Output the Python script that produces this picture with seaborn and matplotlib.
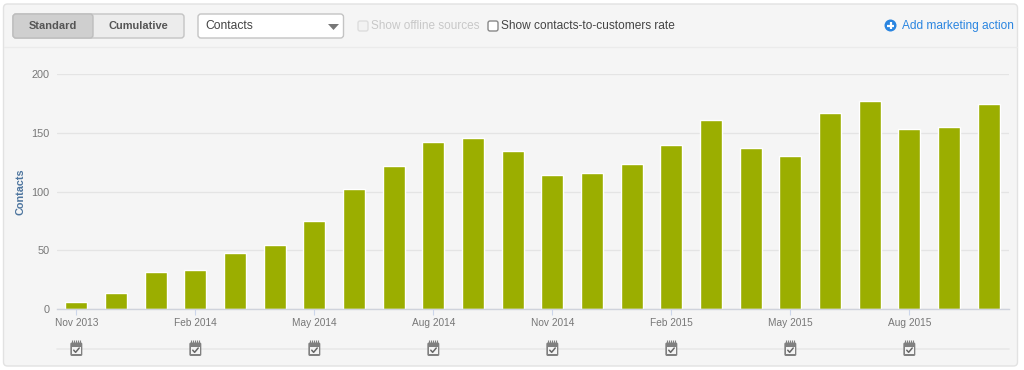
import numpy as np
import pandas as pd
import seaborn as sns
import matplotlib
matplotlib.use('Agg')
import matplotlib.pyplot as plt
from matplotlib.patches import FancyBboxPatch, Rectangle, Circle, Polygon

months = ['Nov 2013', 'Dec 2013', 'Jan 2014', 'Feb 2014', 'Mar 2014', 'Apr 2014',
          'May 2014', 'Jun 2014', 'Jul 2014', 'Aug 2014', 'Sep 2014', 'Oct 2014',
          'Nov 2014', 'Dec 2014', 'Jan 2015', 'Feb 2015', 'Mar 2015', 'Apr 2015',
          'May 2015', 'Jun 2015', 'Jul 2015', 'Aug 2015', 'Sep 2015', 'Oct 2015']
contacts = [6, 14, 32, 33, 48, 55, 75, 102, 122, 142, 146, 135,
            114, 116, 124, 140, 161, 137, 130, 167, 177, 153, 155, 175]
y_ticks = [0, 50, 100, 150, 200]

W, H = 1024, 370
PANEL = '#f5f5f5'
GRID = '#e4e4e4'
GREY = '#777777'

sns.set_theme(style='white')
plt.rcParams['font.family'] = ['Liberation Sans', 'DejaVu Sans']

df = pd.DataFrame({'month': months, 'contacts': contacts})

fig = plt.figure(figsize=(W / 100, H / 100), dpi=100, facecolor='white')

# overlay in pixel coordinates for the page furniture
bg = fig.add_axes([0, 0, 1, 1], zorder=0)
bg.set_xlim(0, W)
bg.set_ylim(H, 0)
bg.axis('off')

ax = fig.add_axes([56.5 / W, 1 - 309.2 / H, (1008.5 - 56.5) / W, 235 / H], zorder=1)
ax.patch.set_alpha(0)
sns.barplot(data=df, x='month', y='contacts', color='#9bae00', saturation=1,
            width=0.55, ax=ax)
ax.set_xlim(-0.5, len(months) - 0.5)
ax.set_ylim(0, 200)
ax.set_yticks(y_ticks)
ax.yaxis.grid(True, color=GRID, linewidth=0.9)
ax.set_axisbelow(True)
ax.set_xticks(range(0, len(months), 3))
ax.set_xticklabels(months[::3], fontsize=7.3, color=GREY)
ax.tick_params(axis='x', length=4, width=0.8, color='#ccd6eb', pad=2.5, bottom=True)
ax.tick_params(axis='y', length=0, pad=5, labelsize=7.8, labelcolor=GREY)
for side in ['top', 'right', 'left']:
    ax.spines[side].set_visible(False)
ax.spines['bottom'].set_color('#cfd3dc')
ax.spines['bottom'].set_linewidth(1)
ax.set_xlabel('')
ax.set_ylabel('')
bg.text(21, 192, 'Contacts', rotation=90, ha='center', va='center',
        fontsize=7.8, fontweight='bold', color='#4d759e')

# panel
bg.add_patch(FancyBboxPatch((3.5, 4), 1014, 362, boxstyle='round,pad=0,rounding_size=4',
                            fc=PANEL, ec='#e2e2e2', lw=1))
bg.plot([4, 1017], [47, 47], color='#ebebeb', lw=1)

# toggle buttons
bg.add_patch(FancyBboxPatch((13, 14), 171, 24, boxstyle='round,pad=0,rounding_size=3',
                            fc='#ececec', ec='#c4c4c4', lw=1))
bg.add_patch(FancyBboxPatch((13, 14), 80, 24, boxstyle='round,pad=0,rounding_size=3',
                            fc='#cfcfcf', ec='#bdbdbd', lw=1))
bg.text(53, 26, 'Standard', ha='center', va='center', fontsize=7.9,
        fontweight='bold', color='#555555')
bg.text(138, 26, 'Cumulative', ha='center', va='center', fontsize=7.9,
        fontweight='bold', color='#555555')

# dropdown
bg.add_patch(FancyBboxPatch((198, 14), 145.5, 24, boxstyle='round,pad=0,rounding_size=3',
                            fc='white', ec='#c4c4c4', lw=1))
bg.text(205, 26, 'Contacts', ha='left', va='center', fontsize=8.7, color='#444444')
bg.add_patch(Polygon([[328, 24], [339, 24], [333.5, 30]], fc='#777777', ec='none'))

# checkboxes
bg.add_patch(FancyBboxPatch((358, 21), 10, 10, boxstyle='round,pad=0,rounding_size=2',
                            fc='#f2f2f2', ec='#dddddd', lw=1))
bg.text(371, 26, 'Show offline sources', ha='left', va='center', fontsize=8.45,
        color='#c8c8c8')
bg.add_patch(FancyBboxPatch((488, 21), 10, 10, boxstyle='round,pad=0,rounding_size=2',
                            fc='white', ec='#888888', lw=1))
bg.text(501, 26, 'Show contacts-to-customers rate', ha='left', va='center',
        fontsize=8.6, color='#444444')

# add action link
bg.add_patch(Circle((890.5, 25.5), 6, fc='#2a85e0', ec='none'))
bg.plot([887, 894], [25.5, 25.5], color='white', lw=1.6, solid_capstyle='butt')
bg.plot([890.5, 890.5], [22, 29], color='white', lw=1.6, solid_capstyle='butt')
bg.text(901.5, 25.5, 'Add marketing action', ha='left', va='center', fontsize=8.55,
        color='#2a85e0')

# marketing action row with calendar icons
bg.plot([57, 1009], [349, 349], color='#e8e8e8', lw=1.2)
for pos in range(0, len(months), 3):
    if months[pos] == months[-2]:
        continue
    cx = ax.transData.transform((pos, 0))[0]
    bg.add_patch(FancyBboxPatch((cx - 6, 342.5), 12, 13.5,
                                boxstyle='round,pad=0,rounding_size=1.5',
                                fc='#808080', ec='none', zorder=3))
    bg.add_patch(Rectangle((cx - 4.3, 346.5), 8.6, 7.8, fc='#f4f4f4', ec='none', zorder=4))
    bg.plot([cx - 2.6, cx - 0.7, cx + 2.9], [350.2, 352.3, 348], color='#666666',
            lw=1.1, zorder=5)
    bg.plot(np.array([-4, -2, 0, 2, 4]) + cx, [342] * 5, ls='none', marker='|',
            ms=2.5, mew=0.8, color='#808080', zorder=3)

plt.savefig('out.png', dpi=100)
